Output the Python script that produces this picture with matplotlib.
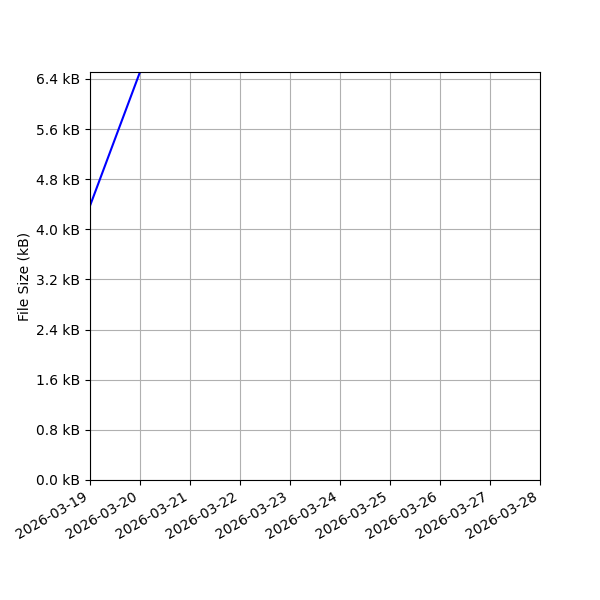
import numpy as np
import matplotlib
matplotlib.use("Agg")
import matplotlib.pyplot as plt
import matplotlib.dates as mdates
from matplotlib.ticker import FuncFormatter, MultipleLocator
from datetime import date

# Data (file size in bytes per day)
dates = [date(2026, 3, 19), date(2026, 3, 20)]
sizes = [4375, 6510]
x_start = date(2026, 3, 19)
x_end = date(2026, 3, 28)

fig, ax = plt.subplots(figsize=(6, 6), dpi=100)
ax.plot(dates, sizes, color='blue')
ax.set_xlim(x_start, x_end)
ax.set_ylim(0, max(sizes))
ax.xaxis.set_major_locator(mdates.DayLocator())
ax.xaxis.set_major_formatter(mdates.DateFormatter('%Y-%m-%d'))
ax.yaxis.set_major_locator(MultipleLocator(800))
ax.yaxis.set_major_formatter(FuncFormatter(lambda v, pos: f"{v / 1000:.1f} kB"))
ax.set_ylabel("File Size (kB)", labelpad=3)
ax.grid(True)
fig.autofmt_xdate()
fig.subplots_adjust(left=0.15)
fig.savefig("out.png")
